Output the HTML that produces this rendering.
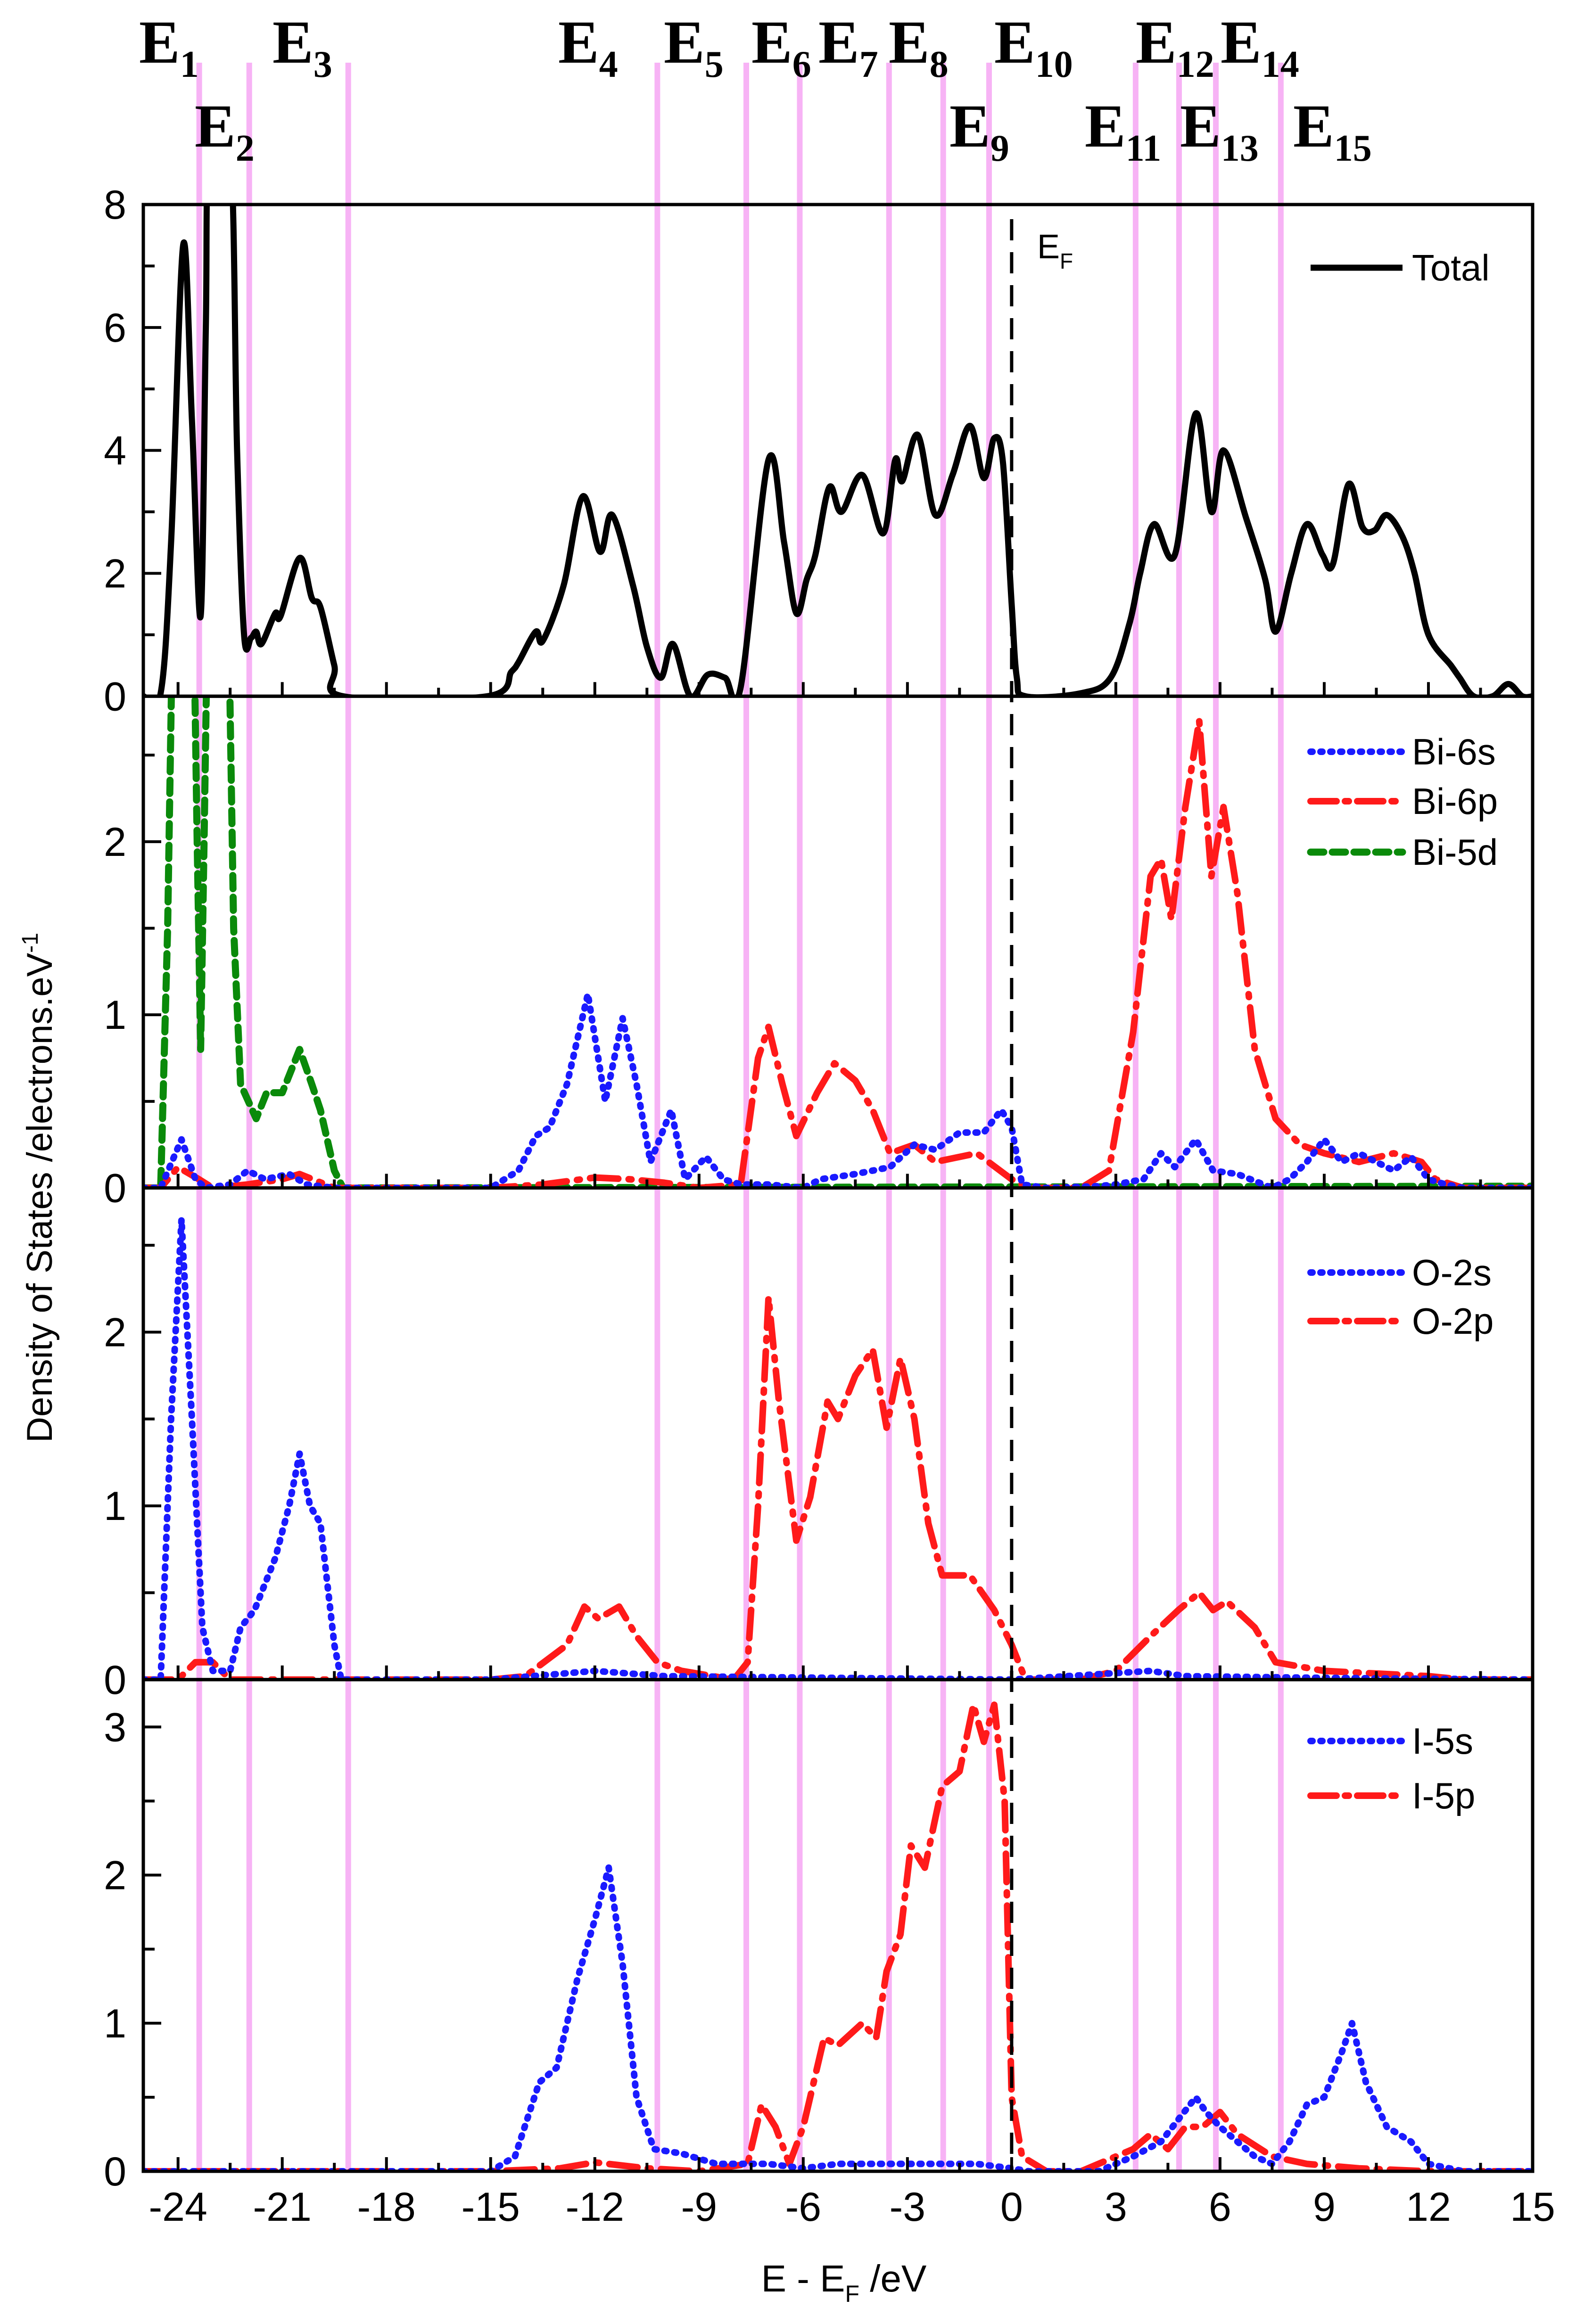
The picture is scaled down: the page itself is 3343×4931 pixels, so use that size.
<!DOCTYPE html>
<html><head><meta charset="utf-8">
<style>
html,body{margin:0;padding:0;background:#fff;}
svg{display:block;}
text{font-family:"Liberation Sans",sans-serif;}
.lbl{font-family:"Liberation Serif",serif;font-weight:bold;font-size:130px;}
</style></head>
<body>
<svg id="chart" xmlns="http://www.w3.org/2000/svg" width="3343" height="4931" viewBox="0 0 3343 4931">
</svg>
<script>
// ---------- data ----------
const xTicks = [-24,-21,-18,-15,-12,-9,-6,-3,0,3,6,9,12,15];
const eLines = [-23.39,-21.95,-19.1,-10.2,-7.64,-6.1,-3.53,-1.97,-0.65,3.57,4.82,5.88,7.75];
const eLabels = ["1","2","3","4","5","6","7","8","9","10","11","12","13","14","15"];
const eLabelRow = [0,1,0,0,0,0,0,0,1,0,1,0,1,0,1];
const eLabelX = [295,413,578,1184,1408,1594,1736,1885,2014,2109,2301,2409,2503,2589,2743];

const totalE = [-25,-24.5,-24.2,-23.85,-23.6,-23.35,-23.2,-23.1,-22.5,-22.3,-22.1,-21.9,-21.75,-21.6,-21.2,-21.05,-20.5,-20.15,-19.9,-19.5,-19.25,-15.1,-14.4,-14.2,-13.7,-13.5,-12.9,-12.35,-11.85,-11.5,-10.9,-10.5,-10.1,-9.75,-9.25,-8.75,-8.25,-7.8,-7.0,-6.55,-6.2,-5.9,-5.65,-5.25,-4.9,-4.3,-3.7,-3.35,-3.15,-2.7,-2.2,-1.7,-1.2,-0.8,-0.5,-0.25,0.0,0.15,0.4,2.0,2.85,3.4,3.7,4.1,4.7,5.3,5.75,6.1,6.75,7.3,7.6,8.05,8.5,8.95,9.25,9.7,10.1,10.45,10.8,11.25,11.6,12.0,12.65,12.9,13.3,13.85,14.3,14.7,15];
const totalV = [0,0.05,2.5,7.35,4.5,1.3,6,9,9,4,1.0,0.95,1.05,0.85,1.35,1.3,2.25,1.6,1.45,0.5,0,0,0.4,0.55,1.05,0.9,1.8,3.25,2.35,2.95,1.8,0.8,0.3,0.85,0,0.35,0.3,0.15,3.85,2.5,1.35,1.9,2.3,3.4,3.0,3.6,2.65,3.85,3.5,4.25,2.95,3.6,4.4,3.55,4.2,3.8,1.5,0.3,0,0.05,0.3,1.2,2.0,2.8,2.3,4.6,3.0,4.0,2.9,1.9,1.05,2.0,2.8,2.3,2.15,3.45,2.75,2.7,2.95,2.6,2.0,1.0,0.5,0.3,0,0,0.2,0,0];

const bi5dE = [-25,-24.5,-24.3,-24.1,-23.9,-23.6,-23.45,-23.35,-23.25,-23.1,-22.6,-22.4,-22.2,-21.75,-21.45,-21.0,-20.5,-20.15,-19.9,-19.5,-19.25,15];
const bi5dV = [0,0,1.5,4,4,4,2,0.8,2,4,4,1.5,0.6,0.4,0.55,0.55,0.8,0.6,0.45,0.1,0,0.01];
const bi6sE = [-25,-24.5,-23.9,-23.5,-23.2,-22.5,-22,-21.5,-20.8,-20.3,-19.5,-15,-14.2,-13.7,-13.3,-12.8,-12.2,-11.7,-11.2,-10.8,-10.4,-9.8,-9.4,-8.8,-8.3,-7.8,-7,-6,-5.5,-4.5,-3.5,-2.8,-2.2,-1.5,-0.8,-0.3,0,0.3,1,2.5,3,3.8,4.3,4.7,5.3,5.8,6.5,7.5,8,8.5,9,9.5,10,11,11.5,12,12.5,13,15];
const bi6sV = [0,0,0.28,0.05,0,0.02,0.1,0.05,0.08,0.02,0,0,0.1,0.3,0.35,0.6,1.12,0.5,0.98,0.6,0.15,0.45,0.05,0.18,0.05,0.02,0.02,0,0.05,0.08,0.12,0.25,0.22,0.32,0.32,0.45,0.35,0.02,0,0.01,0.02,0.05,0.2,0.12,0.28,0.1,0.08,0,0.05,0.15,0.28,0.15,0.2,0.1,0.18,0.05,0.02,0,0];
const bi6pE = [-25,-24.5,-24,-23.4,-23,-22,-21,-20.5,-19.5,-15,-13.5,-12,-11,-10,-9,-7.8,-7.3,-7,-6.6,-6.2,-5.6,-5.1,-4.5,-4,-3.5,-2.8,-2.2,-1,0,0.5,2,2.8,3.5,4,4.3,4.6,5.0,5.4,5.75,6.1,6.5,7,7.6,8.3,9,10,11,11.8,12.2,13,15];
const bi6pV = [0,0,0.12,0.05,0,0.02,0.05,0.08,0,0,0.02,0.06,0.05,0.03,0,0.02,0.75,0.93,0.6,0.3,0.55,0.72,0.62,0.45,0.2,0.25,0.15,0.2,0.05,0,0,0.1,0.9,1.8,1.9,1.55,2.2,2.7,1.8,2.2,1.7,0.8,0.4,0.25,0.2,0.15,0.2,0.15,0.05,0,0];

const o2sE = [-25,-24.5,-24.2,-23.9,-23.6,-23.3,-23,-22.5,-22.2,-21.8,-21.2,-20.8,-20.5,-20.2,-19.9,-19.5,-19.3,-15,-12,-10,0,4,5,9,15];
const o2sV = [0,0,1.5,2.65,1.5,0.3,0.05,0.05,0.3,0.4,0.7,1.0,1.3,1.0,0.9,0.2,0,0,0.05,0.02,0,0.05,0.02,0.01,0];
const o2pE = [-25,-24,-23.5,-23,-22.5,-15,-14,-12.8,-12.3,-11.9,-11.3,-10.8,-10.2,-9.5,-8,-7.6,-7.3,-7,-6.7,-6.2,-5.8,-5.3,-5,-4.5,-4,-3.6,-3.2,-2.8,-2.4,-2,-1.2,-0.5,0,0.4,2,3,4,4.8,5.4,5.8,6.2,7,7.6,9,12,13,15];
const o2pV = [0,0,0.1,0.1,0,0,0.02,0.2,0.42,0.35,0.42,0.25,0.1,0.05,0,0.1,1.0,2.2,1.6,0.8,1.05,1.6,1.5,1.75,1.9,1.45,1.85,1.5,0.9,0.6,0.6,0.4,0.2,0,0,0.05,0.25,0.4,0.5,0.4,0.45,0.3,0.1,0.05,0.02,0,0];

const i5sE = [-25,-15,-14.3,-13.6,-13.1,-12.5,-12,-11.6,-11.2,-10.8,-10.3,-9.5,-8.5,-7,-6,-5,-3,-1,0,0.5,2.5,3.5,4.3,4.8,5.3,5.6,6,6.5,7,7.5,8,8.5,9,9.5,9.8,10.2,10.8,11.5,12,13,15];
const i5sV = [0,0,0.1,0.6,0.7,1.3,1.7,2.05,1.4,0.5,0.15,0.12,0.05,0.05,0.02,0.05,0.05,0.05,0.02,0,0,0.1,0.2,0.35,0.5,0.4,0.3,0.2,0.1,0.05,0.2,0.45,0.5,0.8,1.0,0.6,0.3,0.2,0.05,0,0];
const i5pE = [-25,-15,-13,-12,-10.5,-9,-7.6,-7.2,-6.8,-6.4,-6,-5.4,-5,-4.3,-3.9,-3.6,-3.2,-2.9,-2.5,-2.0,-1.5,-1.1,-0.8,-0.5,-0.2,0,0.3,1,2,3.5,4,4.5,5,5.5,6,6.5,7.5,8.5,10,12,15];
const i5pV = [0,0,0.02,0.06,0.02,0,0.05,0.45,0.3,0.05,0.3,0.9,0.85,1.0,0.9,1.35,1.6,2.2,2.05,2.6,2.7,3.15,2.9,3.15,2.5,0.5,0.1,0,0,0.15,0.25,0.15,0.3,0.3,0.4,0.25,0.1,0.05,0.02,0,0];

// ---------- layout ----------
const NS = "http://www.w3.org/2000/svg";
const svg = document.getElementById('chart');
const L = 304, R = 3251, TOP = 434, BOT = 4607;
const panelH = (BOT - TOP) / 4;
const xMin = -25, xMax = 15;
function xS(v){ return L + (v - xMin) / (xMax - xMin) * (R - L); }
const panels = [
  {top: TOP, max: 8, ticks:[0,2,4,6,8], minor:[1,3,5,7], name:'total-panel'},
  {top: TOP+panelH, max: 2.84, ticks:[0,1,2], minor:[0.5,1.5,2.5], name:'bi-panel'},
  {top: TOP+2*panelH, max: 2.83, ticks:[0,1,2], minor:[0.5,1.5,2.5], name:'o-panel'},
  {top: TOP+3*panelH, max: 3.32, ticks:[0,1,2,3], minor:[0.5,1.5,2.5], name:'i-panel'}
];
panels.forEach(p => { p.bot = p.top + panelH; p.y = v => p.bot - v / p.max * panelH; });

function mk(tag, attrs, parent){
  const el = document.createElementNS(NS, tag);
  for (const k in attrs) el.setAttribute(k, attrs[k]);
  (parent || svg).appendChild(el);
  return el;
}

const defs = mk('defs', {});
panels.forEach((p,i) => {
  const c = mk('clipPath', {id:'clip'+i}, defs);
  mk('rect', {x:L, y:p.top, width:R-L, height:panelH}, c);
});

eLines.forEach(e => {
  const ln = mk('line', {x1:xS(e), x2:xS(e), y1:133, y2:BOT, stroke:'#f7b3f5', 'stroke-width':12});
  
  
});

eLabels.forEach((s,i) => {
  const t = mk('text', {x:eLabelX[i], y: eLabelRow[i] ? 311 : 133, class:'lbl'});
  
  
  t.appendChild(document.createTextNode('E'));
  const sub = mk('tspan', {'font-size':'80', dy:'30'}, t);
  sub.textContent = s;
});

function linePath(E, V, p, smooth){
  const pts = E.map((e,i) => [xS(e), p.y(V[i])]);
  if (!smooth) return 'M' + pts.map(q => q[0].toFixed(1)+','+q[1].toFixed(1)).join(' L');
  let d = 'M' + pts[0][0] + ',' + pts[0][1];
  for (let i = 0; i < pts.length - 1; i++){
    const p0 = pts[Math.max(0,i-1)], p1 = pts[i], p2 = pts[i+1], p3 = pts[Math.min(pts.length-1,i+2)];
    const c1x = p1[0] + (p2[0]-p0[0])/6, c1y = p1[1] + (p2[1]-p0[1])/6;
    const c2x = p2[0] - (p3[0]-p1[0])/6, c2y = p2[1] - (p3[1]-p1[1])/6;
    d += ' C' + c1x.toFixed(1)+','+c1y.toFixed(1)+' '+c2x.toFixed(1)+','+c2y.toFixed(1)+' '+p2[0].toFixed(1)+','+p2[1].toFixed(1);
  }
  return d;
}
const styles = {
  total:{stroke:'#000','stroke-width':13,'stroke-dasharray':'none'},
  s:{stroke:'#1a1aff','stroke-width':14,'stroke-dasharray':'4 17','stroke-linecap':'round'},
  p:{stroke:'#ff1a1a','stroke-width':14,'stroke-dasharray':'60 22 6 22','stroke-linecap':'round'},
  d:{stroke:'#0a8a0a','stroke-width':15,'stroke-dasharray':'28 18','stroke-linecap':'round'}
};
function series(E, V, pi, st, smooth){
  const p = panels[pi];
  const a = Object.assign({d: linePath(E,V,p,smooth), fill:'none', 'clip-path':'url(#clip'+pi+')', 'stroke-linejoin':'round'}, styles[st]);
  return mk('path', a);
}
let s;
s = series(totalE,totalV,0,'total',true);


s = series(bi5dE,bi5dV,1,'d',false);


s = series(bi6pE,bi6pV,1,'p',false);


s = series(bi6sE,bi6sV,1,'s',false);


s = series(o2pE,o2pV,2,'p',false);


s = series(o2sE,o2sV,2,'s',false);


s = series(i5pE,i5pV,3,'p',false);


s = series(i5sE,i5sV,3,'s',false);



const ef = mk('line', {x1:xS(0), x2:xS(0), y1:465, y2:BOT, stroke:'#000', 'stroke-width':7, 'stroke-dasharray':'45 25'});


const eft = mk('text', {x:2200, y:548, 'font-size':72});


eft.appendChild(document.createTextNode('E'));
mk('tspan',{'font-size':46, dy:22},eft).textContent='F';

panels.forEach((p,i) => {
  const fr = mk('rect', {x:L, y:p.top, width:R-L, height:panelH, fill:'none', stroke:'#000', 'stroke-width':7});
  
  
  xTicks.forEach(t => { mk('line',{x1:xS(t),x2:xS(t),y1:p.bot,y2:p.bot-30,stroke:'#000','stroke-width':6}); });
  xTicks.slice(0,-1).forEach(t => { mk('line',{x1:xS(t+1.5),x2:xS(t+1.5),y1:p.bot,y2:p.bot-18,stroke:'#000','stroke-width':6}); });
  p.ticks.forEach(t => {
    mk('line',{x1:L,x2:L+38,y1:p.y(t),y2:p.y(t),stroke:'#000','stroke-width':6});
    const tl = mk('text',{x:268,y:p.y(t)+30,'font-size':86,'text-anchor':'end'});
    
    
    tl.textContent = t;
  });
  p.minor.forEach(t => { if (t < p.max) mk('line',{x1:L,x2:L+24,y1:p.y(t),y2:p.y(t),stroke:'#000','stroke-width':6}); });
});
xTicks.forEach(t => {
  const tl = mk('text',{x:xS(t),y:4712,'font-size':86,'text-anchor':'middle'});
  
  
  tl.textContent = t;
});

const xt = mk('text',{x:1790,y:4862,'font-size':80,'text-anchor':'middle'});


xt.appendChild(document.createTextNode('E - E'));
mk('tspan',{'font-size':50,dy:22},xt).textContent='F';
mk('tspan',{dy:-22},xt).textContent=' /eV';
const yt = mk('text',{x:0,y:0,'font-size':76,'text-anchor':'middle',transform:'translate(110,2520) rotate(-90)'});


yt.appendChild(document.createTextNode('Density of States /electrons.eV'));
mk('tspan',{'font-size':48,dy:-30},yt).textContent='-1';

const legends = [
  [0, 568, 'total', 'Total'],
  [1, 1595, 's', 'Bi-6s'], [1, 1700, 'p', 'Bi-6p'], [1, 1808, 'd', 'Bi-5d'],
  [2, 2700, 's', 'O-2s'], [2, 2803, 'p', 'O-2p'],
  [3, 3694, 's', 'I-5s'], [3, 3810, 'p', 'I-5p']
];
legends.forEach(l => {
  const g = mk('g', {});
  
  
  const st = Object.assign({x1:2780,x2:2975,y1:l[1],y2:l[1],fill:'none'}, styles[l[2]]);
  if (l[2]==='p') st['stroke-dasharray']='55 18 8 18';
  mk('line', st, g);
  const t = mk('text',{x:2995,y:l[1]+27,'font-size':78}, g);
  t.textContent = l[3];
});
</script>
</body></html>
